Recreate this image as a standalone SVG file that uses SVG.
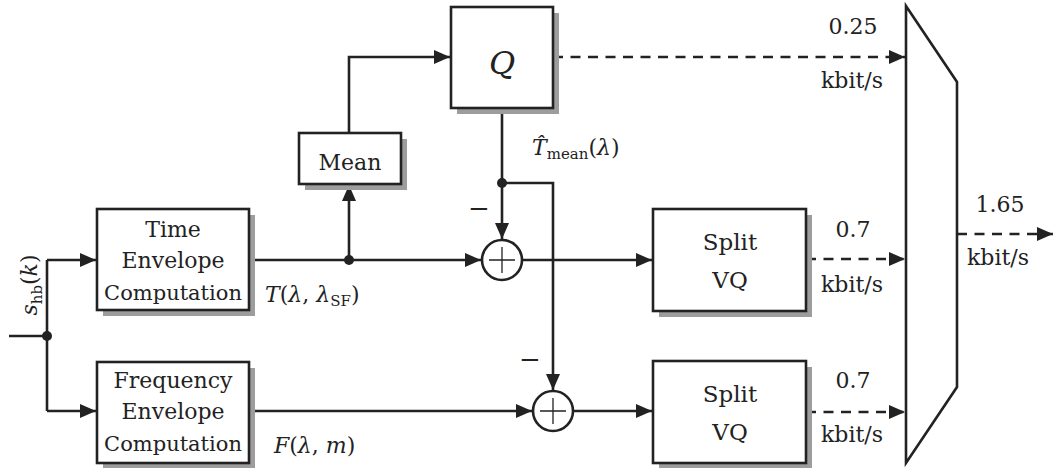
<svg xmlns="http://www.w3.org/2000/svg" width="1053" height="468" viewBox="0 0 1053 468">
<style>
.box{fill:#fff;stroke:#222;stroke-width:2.6}
.shadow{fill:#9d9d9d;stroke:none}
.ln{fill:none;stroke:#222;stroke-width:2.6}
.dash{fill:none;stroke:#222;stroke-width:2.6;stroke-dasharray:10 7.5}
.thin{fill:none;stroke:#222;stroke-width:1.3}
.t{font-family:"DejaVu Serif","Liberation Serif",serif;font-size:22px;fill:#222;text-anchor:middle}
.m{font-family:"DejaVu Serif","Liberation Serif",serif;font-size:22px;fill:#222}
.i{font-style:italic}
.sub{font-size:15px}
.dot{fill:#222}
</style>
<defs>
<marker id="arr" markerUnits="userSpaceOnUse" markerWidth="17" markerHeight="15" refX="16" refY="7" orient="auto">
<path d="M0,0 L16,7 L0,14 z" fill="#222"/>
</marker>
</defs>

<g id="connectors">
<path class="ln" d="M9,336 H47"/>
<path class="ln" d="M47,260 V411"/>
<path class="ln" d="M47,260 H96" marker-end="url(#arr)"/>
<path class="ln" d="M47,411 H96" marker-end="url(#arr)"/>
<circle class="dot" cx="47" cy="336" r="5"/>
<path class="ln" d="M249,260 H481" marker-end="url(#arr)"/>
<path class="ln" d="M349,260 V185" marker-end="url(#arr)"/>
<circle class="dot" cx="349" cy="260" r="5"/>
<path class="ln" d="M349,133 V57 H450" marker-end="url(#arr)"/>
<path class="ln" d="M502,108 V239" marker-end="url(#arr)"/>
<circle class="dot" cx="502" cy="183" r="5"/>
<path class="ln" d="M502,183 H553 V390" marker-end="url(#arr)"/>
<path class="ln" d="M522,260 H652" marker-end="url(#arr)"/>
<path class="ln" d="M249,411 H532" marker-end="url(#arr)"/>
<path class="ln" d="M573,411 H652" marker-end="url(#arr)"/>
<path class="dash" d="M553,57 H905" marker-end="url(#arr)"/>
<path class="dash" d="M806,259 H905" marker-end="url(#arr)"/>
<path class="dash" d="M806,412 H905" marker-end="url(#arr)"/>
<path class="dash" d="M957,234 H1053" marker-end="url(#arr)"/>
</g>

<g id="time-env">
<rect class="shadow" x="103" y="215" width="152" height="101"/>
<rect class="box" x="97" y="209" width="152" height="101"/>
<text class="t" x="173" y="237">Time</text>
<text class="t" x="173" y="268">Envelope</text>
<text class="t" x="173" y="300" style="font-size:21px">Computation</text>
</g>

<g id="freq-env">
<rect class="shadow" x="103" y="368" width="152" height="101"/>
<rect class="box" x="97" y="362" width="152" height="101"/>
<text class="t" x="173" y="388">Frequency</text>
<text class="t" x="173" y="419">Envelope</text>
<text class="t" x="173" y="451" style="font-size:21px">Computation</text>
</g>

<g id="mean">
<rect class="shadow" x="305" y="139" width="102" height="51"/>
<rect class="box" x="299" y="133" width="102" height="51"/>
<text class="t" x="350" y="170">Mean</text>
</g>

<g id="quant">
<rect class="shadow" x="457" y="13" width="102" height="101"/>
<rect class="box" x="451" y="7" width="102" height="101"/>
<text class="t i" x="502" y="74" style="font-size:32px">Q</text>
</g>

<g id="sum1">
<circle class="box" cx="502" cy="260" r="20"/>
<path class="thin" d="M489,260 H515 M502,247 V273"/>
</g>

<g id="sum2">
<circle class="box" cx="553" cy="411" r="20"/>
<path class="thin" d="M540,411 H566 M553,398 V424"/>
</g>

<g id="vq1">
<rect class="shadow" x="659" y="215" width="153" height="102"/>
<rect class="box" x="653" y="209" width="153" height="102"/>
<text class="t" x="730" y="250" style="font-size:23px">Split</text>
<text class="t" x="730" y="288" style="font-size:23px">VQ</text>
</g>

<g id="vq2">
<rect class="shadow" x="659" y="367" width="153" height="102"/>
<rect class="box" x="653" y="361" width="153" height="102"/>
<text class="t" x="730" y="402" style="font-size:23px">Split</text>
<text class="t" x="730" y="440" style="font-size:23px">VQ</text>
</g>

<g id="mux">
<polygon class="box" points="906,6 957,82 957,387 906,463"/>
</g>

<g id="labels">
<text class="m" transform="translate(37,285) rotate(-90)" text-anchor="middle"><tspan class="i">s</tspan><tspan class="sub" dy="5">hb</tspan><tspan dy="-5">(</tspan><tspan class="i">k</tspan>)</text>
<text class="m" x="265" y="302"><tspan class="i">T</tspan>(<tspan class="i">λ</tspan>, <tspan class="i">λ</tspan><tspan class="sub" dy="4">SF</tspan><tspan dy="-4">)</tspan></text>
<text class="m" x="274" y="453"><tspan class="i">F</tspan>(<tspan class="i">λ</tspan>, <tspan class="i">m</tspan>)</text>
<text class="m" x="532" y="155"><tspan class="i">T̂</tspan><tspan class="sub" dy="4">mean</tspan><tspan dy="-4">(</tspan><tspan class="i">λ</tspan>)</text>
<text class="t" x="479" y="217" style="font-size:26px">−</text>
<text class="t" x="530" y="368" style="font-size:26px">−</text>
<text class="t" x="853" y="34">0.25</text>
<text class="t" x="852" y="88">kbit/s</text>
<text class="t" x="853" y="237">0.7</text>
<text class="t" x="852" y="292">kbit/s</text>
<text class="t" x="853" y="388">0.7</text>
<text class="t" x="852" y="442">kbit/s</text>
<text class="t" x="1000" y="212">1.65</text>
<text class="t" x="998" y="265">kbit/s</text>
</g>
</svg>
